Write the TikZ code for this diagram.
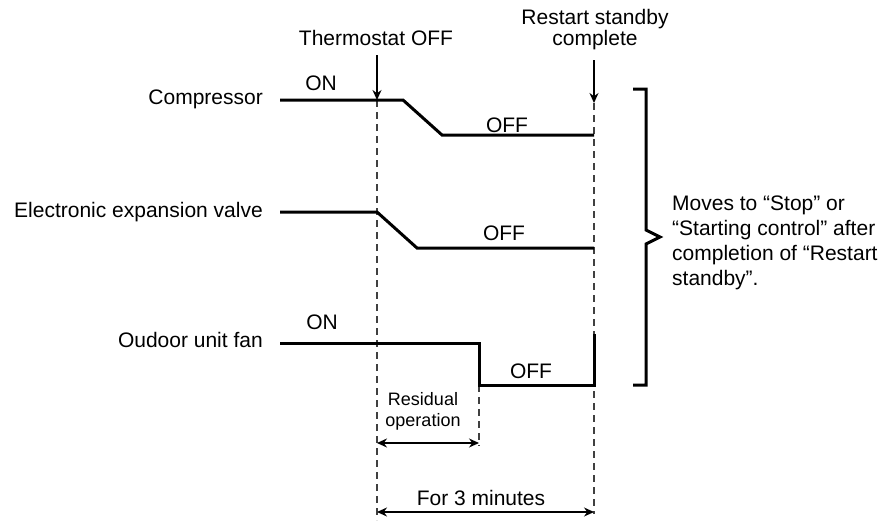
\documentclass[tikz,border=0pt]{standalone}
\usepackage{fontspec}
\setmainfont{Liberation Sans}
\usetikzlibrary{arrows.meta,positioning}

\begin{document}
\begin{tikzpicture}[x=1pt, y=-1pt,
  every node/.style={font=\fontsize{21}{25}\selectfont, inner sep=0pt},
  signal/.style={line width=3pt, line join=miter},
  guide/.style={line width=2pt, black!75, dash pattern=on 7pt off 5pt},
  marker/.style={-{Stealth[length=10pt,width=9pt]}, line width=1.4pt},
  span/.style={{Stealth[length=10pt,width=9pt]}-{Stealth[length=10pt,width=9pt]}, line width=1.4pt}]
  \useasboundingbox (0,0) rectangle (889,522);

  % row labels
  \node[anchor=base east] (comp) at (263,104) {Compressor};
  \node[anchor=base east] (eev) at (263,217) {Electronic expansion valve};
  \node[anchor=base east] (fan) at (263,347) {Oudoor unit fan};

  % event labels
  \node[anchor=base] (thermo) at (376,45) {Thermostat OFF};
  \node[anchor=base] (restart) at (595,45) {complete};
  \node[anchor=base] at (595,24) {Restart standby};

  % time marks
  \coordinate (t0) at (377,100);
  \coordinate (t1) at (594,103);
  \coordinate (tf) at (479,385);
  \draw[guide] (t0) -- (377,520);
  \draw[guide] (t1) -- (594,514);
  \draw[guide] (tf) -- (479,446);
  \draw[marker] (377,55) -- (t0);
  \draw[marker] (594,60) -- (t1);

  % signals
  \draw[signal] (280,100) -- (403,100) -- (442,135) -- (594,135);
  \draw[signal] (280,212) -- (377,212) -- (417,248) -- (594,248);
  \draw[signal] (280,343) -- (479,343) -- (tf) -- (594,385) -- (594,334);

  \node[anchor=base] at (321,90) {ON};
  \node[anchor=base] at (507,132) {OFF};
  \node[anchor=base] at (504,240) {OFF};
  \node[anchor=base] at (322,329) {ON};
  \node[anchor=base] at (531,378) {OFF};

  % durations
  \node[align=center, font=\fontsize{18}{21}\selectfont, anchor=north] (resid) at (423,392) {Residual\\operation};
  \draw[span] (377,443) -- (479,443);
  \node[anchor=base] (three) at (481,505) {For 3 minutes};
  \draw[span] (377,512) -- (594,512);

  % brace and note
  \draw[line width=3pt, line join=miter] (633,89) -- (646,89) -- (646,230) -- (660,237)
    -- (646,244) -- (646,385) -- (633,385);
  \node[align=left, anchor=north west] (note) at (672,196)
    {Moves to “Stop” or\\“Starting control” after\\completion of “Restart\\standby”.};
\end{tikzpicture}
\end{document}
